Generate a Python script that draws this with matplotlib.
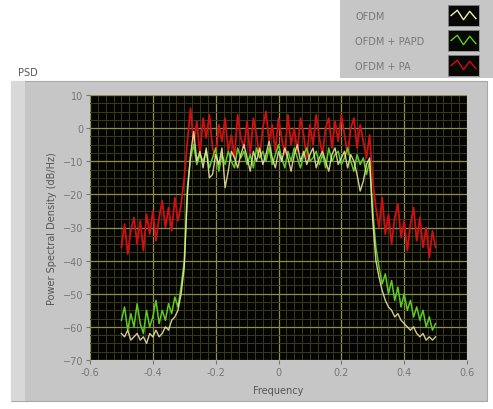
import numpy as np
import matplotlib
matplotlib.use("Agg")
import matplotlib.pyplot as plt
from matplotlib.patches import Rectangle
from matplotlib.ticker import MultipleLocator

# normalised frequency bins
freq = np.round(np.linspace(-0.5, 0.5, 101), 2)

psd_ofdm = [
    -62, -63, -61, -64, -63, -62, -64, -63, -65, -62,
    -63, -61, -63, -62, -60, -61, -58, -57, -55, -50,
    -42, -20, -8, -1, -10, -7, -12, -6, -15, -14,
    -8, -11, -6, -18, -13, -7, -9, -12, -8, -5,
    -9, -13, -7, -10, -6, -11, -8, -4, -9, -12,
    -7, -10, -6, -9, -13, -8, -5, -10, -7, -11,
    -8, -6, -12, -9, -7, -10, -13, -8, -6, -11,
    -9, -7, -12, -8, -10, -14, -19, -16, -11, -9,
    -28, -40, -45, -49, -52, -54, -55, -57, -56, -58,
    -59, -60, -61, -60, -62, -63, -62, -64, -63, -64,
    -63,
]

psd_papd = [
    -58, -54, -61, -56, -60, -53, -59, -62, -55, -60,
    -57, -52, -59, -55, -58, -53, -56, -51, -54, -48,
    -40, -18, -9, -5, -11, -8, -10, -7, -12, -9,
    -6, -13, -8, -11, -7, -10, -12, -6, -9, -7,
    -11, -8, -12, -6, -9, -7, -10, -6, -11, -8,
    -5, -9, -12, -7, -10, -6, -9, -12, -8, -6,
    -10, -9, -7, -11, -8, -12, -6, -10, -8, -7,
    -11, -9, -6, -10, -13, -8, -11, -9, -14, -10,
    -25, -36, -42, -47, -44, -50, -46, -52, -48, -54,
    -50, -55, -52, -57, -54, -58, -55, -60, -57, -61,
    -59,
]

psd_pa = [
    -36, -29, -38, -31, -27, -35, -28, -37, -26, -32,
    -25, -34, -27, -22, -30, -24, -31, -21, -28, -23,
    -15, -4, 6, -5, 2, -8, 3, -3, 4, -6,
    -9, 1, -4, 3, -7, -2, -9, 4, -3, -6,
    2, -8, 3, -2, -9, 0, 5, -4, 1, -7,
    3, -3, -8, 4, -5, 0, -7, 3, -2, -9,
    1, -5, 4, -3, -8, 0, 3, -6, 2, -4,
    4, -2, -8, 0, 3, -6, 1, -4, -9, -2,
    -16, -24, -30, -21, -32, -26, -35, -27, -23, -33,
    -28, -37, -29, -24, -34, -27, -36, -30, -39, -31,
    -36,
]

series_names = ["OFDM", "OFDM + PAPD", "OFDM + PA"]
series_colors = ["#f2eea8", "#5ccc22", "#d01010"]
swatch_wave = [0.5, 0.75, 0.3, 0.7, 0.35]

panel_grey = "#c6c6c6"
text_grey = "#777777"

fig = plt.figure(figsize=(4.93, 4.10), dpi=100)
fig.patch.set_facecolor("white")

# chart panel behind the graph
fig.patches.append(Rectangle((11 / 493, 1 - 402 / 410), 476 / 493, 320 / 410,
                             transform=fig.transFigure, facecolor=panel_grey,
                             edgecolor="#a8a8a8", linewidth=0.8, zorder=-2))
fig.patches.append(Rectangle((11 / 493, 1 - 402 / 410), 14 / 493, 320 / 410,
                             transform=fig.transFigure, facecolor="#d8d8d8",
                             edgecolor="none", zorder=-1))
fig.text(18 / 493, 1 - 73 / 410, "PSD", fontsize=7, color="#555555",
         ha="left", va="center")

ax = fig.add_axes([90 / 493, 1 - 361 / 410, 377 / 493, 265 / 410])
ax.set_facecolor("#040402")

ax.plot(freq, psd_pa, color=series_colors[2], linewidth=1.3, zorder=3)
ax.plot(freq, psd_papd, color=series_colors[1], linewidth=1.1, zorder=4)
ax.plot(freq, psd_ofdm, color=series_colors[0], linewidth=1.0, alpha=0.85, zorder=5)

ax.set_xlim(-0.6, 0.6)
ax.set_ylim(-70, 10)
ax.xaxis.set_major_locator(MultipleLocator(0.2))
ax.xaxis.set_minor_locator(MultipleLocator(0.025))
ax.yaxis.set_major_locator(MultipleLocator(10))
ax.yaxis.set_minor_locator(MultipleLocator(2.5))
ax.grid(which="minor", color="#3a3a18", linewidth=0.7)
ax.grid(which="major", color="#8e8e50", linewidth=0.9)
ax.set_axisbelow(True)
ax.xaxis.set_major_formatter(plt.FuncFormatter(
    lambda v, p: "0" if abs(v) < 1e-9 else f"{v:.1f}"))

ax.tick_params(which="major", length=3, width=0.8, color=text_grey,
               labelsize=7, labelcolor=text_grey, pad=2)
ax.tick_params(which="minor", length=0)
for s in ax.spines.values():
    s.set_visible(False)

ax.set_xlabel("Frequency", fontsize=7, color="#555555", labelpad=6)
ax.set_ylabel("Power Spectral Density (dB/Hz)", fontsize=7, color="#555555", labelpad=4)

# legend box in the top right corner
fig.patches.append(Rectangle((340 / 493, 1 - 79 / 410), 153 / 493, 79 / 410,
                             transform=fig.transFigure, facecolor=panel_grey,
                             edgecolor="none", zorder=-2))
for i, (name, col) in enumerate(zip(series_names, series_colors)):
    top = 6 + i * 25
    fig.text(355 / 493, 1 - (top + 11) / 410, name, fontsize=7, color=text_grey,
             ha="left", va="center")
    sw = fig.add_axes([448 / 493, 1 - (top + 21) / 410, 31 / 493, 21 / 410])
    sw.set_facecolor("#080806")
    sw.plot(np.linspace(0.1, 0.9, len(swatch_wave)), swatch_wave, color=col,
            linewidth=1.0)
    sw.set_xlim(0, 1)
    sw.set_ylim(0, 1)
    sw.set_xticks([])
    sw.set_yticks([])
    for s in sw.spines.values():
        s.set_color("#909090")
        s.set_linewidth(0.6)

fig.savefig("out.png", dpi=100)
